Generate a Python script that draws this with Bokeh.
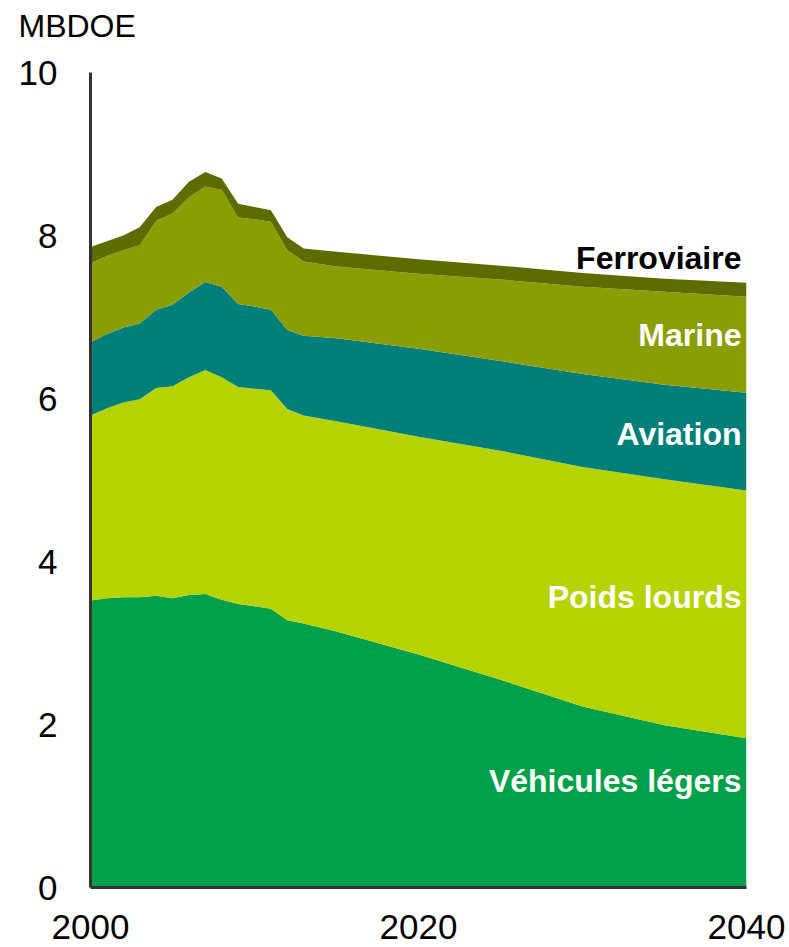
from bokeh.plotting import figure
from bokeh.models import ColumnDataSource, Range1d, FixedTicker, LinearAxis
from bokeh.core.properties import value
from bokeh.embed import file_html
from bokeh.resources import INLINE

years = [2000, 2001, 2002, 2003, 2004, 2005, 2006, 2007, 2008, 2009, 2010,
         2011, 2012, 2013, 2015, 2020, 2025, 2030, 2035, 2040]
vehicules_legers = [3.52, 3.55, 3.56, 3.56, 3.58, 3.55, 3.59, 3.60, 3.53, 3.48, 3.45,
                    3.42, 3.28, 3.24, 3.14, 2.86, 2.55, 2.22, 1.99, 1.83]
poids_lourds = [2.27, 2.33, 2.39, 2.43, 2.55, 2.60, 2.67, 2.75, 2.73, 2.66, 2.67,
                2.68, 2.59, 2.55, 2.58, 2.67, 2.81, 2.94, 3.02, 3.04]
aviation = [0.90, 0.91, 0.92, 0.93, 0.96, 1.00, 1.04, 1.08, 1.11, 1.02, 1.01,
            0.99, 0.97, 0.98, 1.02, 1.08, 1.10, 1.14, 1.16, 1.20]
marine = [0.97, 0.96, 0.95, 0.96, 1.09, 1.12, 1.17, 1.17, 1.19, 1.06, 1.07,
          1.08, 0.98, 0.91, 0.88, 0.92, 1.00, 1.07, 1.14, 1.18]
ferroviaire = [0.20, 0.18, 0.18, 0.22, 0.17, 0.17, 0.19, 0.18, 0.14, 0.17, 0.15,
               0.14, 0.16, 0.16, 0.18, 0.18, 0.17, 0.17, 0.16, 0.17]

series_names = ["Véhicules légers", "Poids lourds", "Aviation", "Marine", "Ferroviaire"]
series_keys = ["vl", "pl", "av", "ma", "fe"]
colors = ["#00A04B", "#B5D300", "#007F7A", "#8A9E04", "#5D6B00"]
label_colors = ["white", "white", "white", "white", "black"]
label_y = [1.31, 3.57, 5.56, 6.78, 7.72]
x_ticks = [2000, 2020, 2040]
y_ticks = [0, 2, 4, 6, 8, 10]
unit_label = "MBDOE"
unit_anchor = 2000

source = ColumnDataSource(dict(year=years, vl=vehicules_legers, pl=poids_lourds,
                               av=aviation, ma=marine, fe=ferroviaire))

p = figure(width=789, height=947, output_backend="svg", toolbar_location=None,
           x_range=Range1d(2000, 2040), y_range=Range1d(0, 10),
           min_border_left=90, min_border_right=43, min_border_top=72,
           min_border_bottom=60)
p.outline_line_color = None
p.xgrid.visible = False
p.ygrid.visible = False
p.background_fill_color = "white"
p.border_fill_color = "white"

p.varea_stack(stackers=series_keys, x="year", color=colors, source=source)

lsrc = ColumnDataSource(dict(x=[2040] * 5, y=label_y, text=series_names, c=label_colors))
p.text(x="x", y="y", text="text", source=lsrc, text_color="c",
       text_align="right", text_baseline="alphabetic", x_offset=-5,
       text_font=value("Liberation Sans"), text_font_style="bold",
       text_font_size="32px")

for ax in (p.xaxis[0], p.yaxis[0]):
    ax.axis_line_color = "#333333"
    ax.axis_line_width = 3
    ax.major_tick_line_color = None
    ax.minor_tick_line_color = None
    ax.major_tick_out = 0
    ax.major_tick_in = 0
    ax.major_label_text_font = "Liberation Sans"
    ax.major_label_text_font_size = "35px"
    ax.major_label_text_color = "black"

p.xaxis.ticker = FixedTicker(ticks=x_ticks)
p.yaxis.ticker = FixedTicker(ticks=y_ticks)
p.xaxis.major_label_standoff = 27
p.yaxis.major_label_standoff = 33

# unit label above the plot (an invisible axis carrying one label);
# trailing no-break spaces shift the centred text to the left
top_ax = LinearAxis(ticker=FixedTicker(ticks=[unit_anchor]),
                    major_label_overrides={unit_anchor: unit_label + "\u00a0" * 3})
top_ax.axis_line_color = None
top_ax.major_tick_line_color = None
top_ax.minor_tick_line_color = None
top_ax.major_tick_out = 0
top_ax.major_tick_in = 0
top_ax.major_label_standoff = 29
top_ax.major_label_text_font = "Liberation Sans"
top_ax.major_label_text_font_size = "32px"
top_ax.major_label_text_color = "black"
p.add_layout(top_ax, "above")

open("out.html", "w").write(file_html(p, INLINE))
